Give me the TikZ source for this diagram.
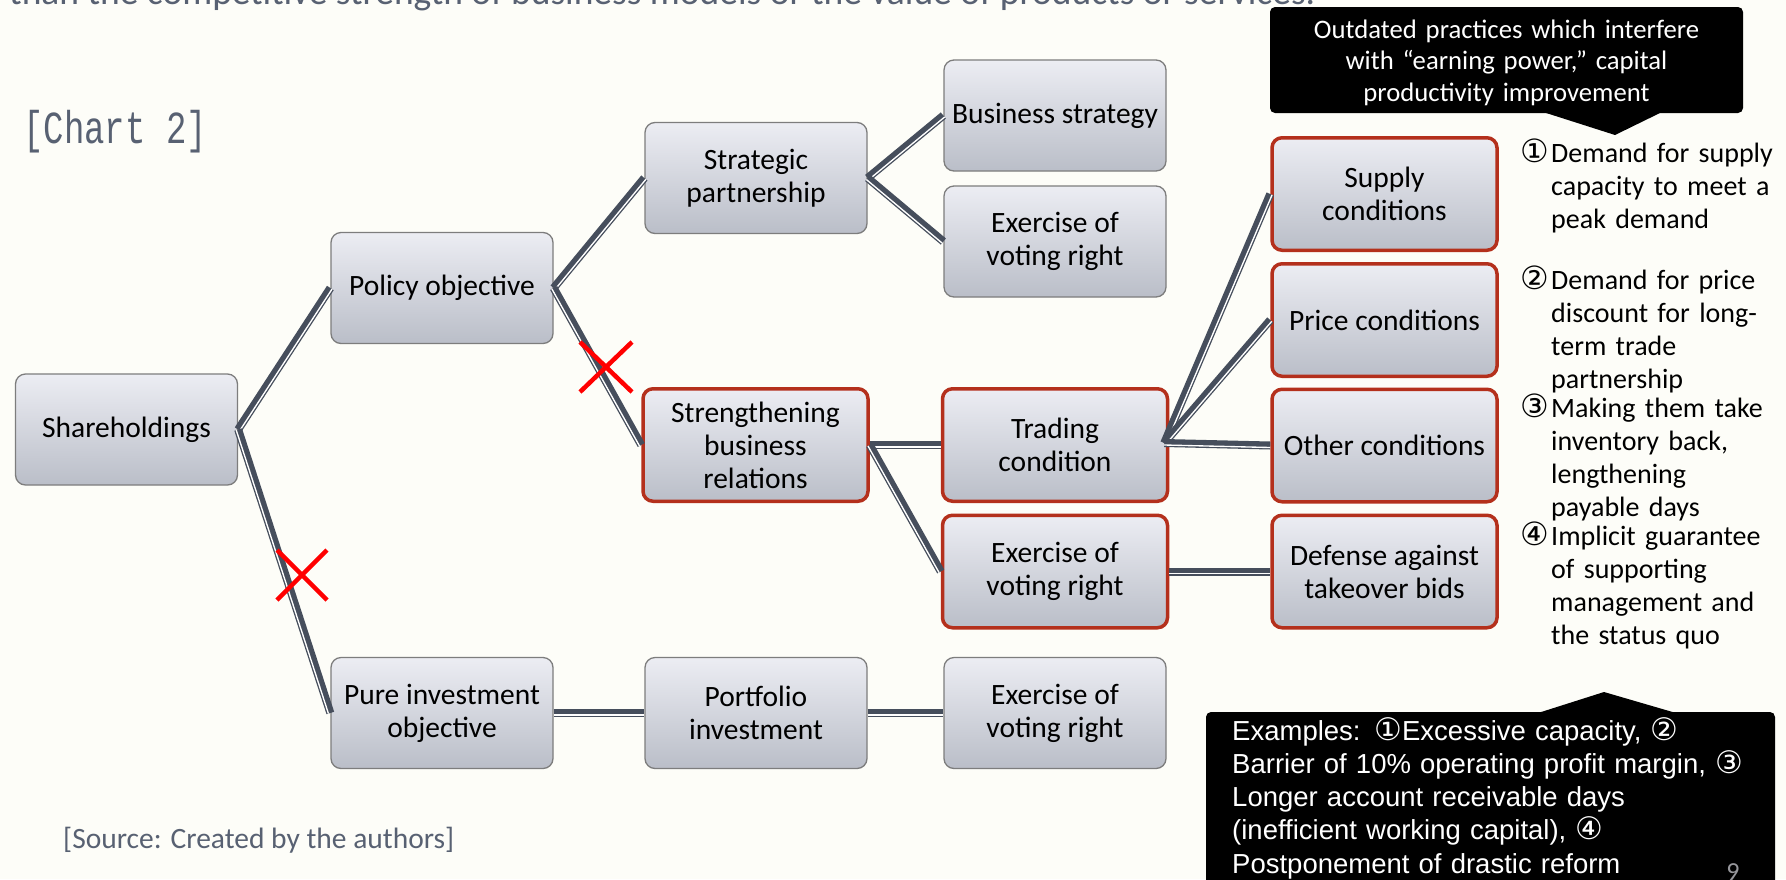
\documentclass[tikz,border=0pt]{standalone}
\usepackage{fontspec}
\usepackage{graphicx}
\setmainfont{Carlito}
\newfontfamily\calnarrow{Carlito}[WordSpace=0.7]
\newfontfamily\arialf{Liberation Sans}
\newfontfamily\monof{Liberation Mono}
\newfontfamily\djv{DejaVu Sans}
\usetikzlibrary{calc}
\definecolor{bg}{RGB}{253,253,248}
\definecolor{cdark}{RGB}{70,78,92}
\definecolor{boxtop}{RGB}{236,237,243}
\definecolor{boxbot}{RGB}{186,190,200}
\definecolor{boxline}{RGB}{125,125,125}
\definecolor{hiline}{RGB}{180,48,28}
\definecolor{greytext}{RGB}{88,97,114}
\definecolor{xred}{RGB}{255,0,0}
\definecolor{pnum}{RGB}{150,150,155}
\newcommand{\cn}[1]{{\djv\fontsize{31}{31}\selectfont #1}}
\tikzset{
  box/.style={rectangle, rounded corners=10pt, top color=boxtop, bottom color=boxbot,
    draw=boxline, line width=1.3pt, minimum width=222pt, minimum height=111pt,
    inner sep=2pt, align=center, text=black, font=\fontsize{29.5}{33}\selectfont},
  hibox/.style={box, draw=hiline, line width=3.5pt, minimum width=225pt, minimum height=112.5pt},
  cline/.style={draw=cdark, line width=8pt},
  cgap/.style={draw=white, line width=1.35pt},
  redx/.style={draw=xred, line width=4.5pt},
  callbox/.style={rectangle, rounded corners=5pt, fill=black, draw=none},
  rtext/.style={anchor=base west, inner sep=0pt, text width=240pt, align=left, text=black,
    font=\calnarrow\fontsize{28}{33}\selectfont},
  rnum/.style={anchor=base east, inner sep=0pt, text=black, font=\djv\fontsize{32}{32}\selectfont},
  greylabel/.style={anchor=base west, inner sep=0pt, text=greytext}
}
\newcommand{\linkto}[2]{%
  \draw[cline] (#1) -- (#2);
  \draw[cgap] ($(#1)!2pt!-90:(#2)$) -- ($(#2)!2pt!90:(#1)$);
}
\begin{document}
\begin{tikzpicture}[x=1pt,y=-1pt]
\path[use as bounding box, fill=bg] (0,0) rectangle (1786,879);

\begin{scope}
\clip (0,0) rectangle (1786,879);
\node[greylabel, font=\fontsize{37.5}{44}\selectfont] (toptext) at (9,4)
  {than the competitive strength of business models or the value of products or services.};
% bottom callout
\node[callbox, minimum width=569pt, minimum height=183pt] (c2) at (1490.5,803.5) {};
\fill[black] (1538,713) -- (1604,692) -- (1676,713) -- cycle;
\node[anchor=base west, inner sep=0pt, text width=560pt, align=left, text=white,
  font=\arialf\fontsize{27.5}{33.3}\selectfont] (c2t) at (1232,740)
  {Examples: \cn{①}Excessive capacity, \cn{②}\\
   Barrier of 10\% operating profit margin, \cn{③}\\
   Longer account receivable days\\
   (inefficient working capital), \cn{④}\\
   Postponement of drastic reform};
\node[anchor=base, inner sep=0pt, text=pnum, font=\fontsize{26}{30}\selectfont] (pg) at (1733,880) {9};
\end{scope}

% title and source
\node[greylabel, font=\monof\fontsize{34}{40}\selectfont] (chart) at (23,143)
  {\scalebox{1}[1.35]{[Chart 2]}};
\node[greylabel, font=\fontsize{29.5}{33}\selectfont] (src) at (63,848)
  {[Source: Created by the authors]};

% top callout
\node[callbox, minimum width=473pt, minimum height=106pt] (c1) at (1506.5,60) {};
\fill[black] (1543,112) -- (1615,135) -- (1662,112) -- cycle;
\node[anchor=base, inner sep=0pt, text width=470pt, align=center, text=white,
  font=\fontsize{26.7}{31.5}\selectfont] (c1t) at (1506.5,38)
  {Outdated practices which interfere\\with “earning power,” capital\\productivity improvement};

% boxes
\node[box]   (sh)  at (126.5,429.5) {Shareholdings};
\node[box]   (po)  at (442,288)     {Policy objective};
\node[box]   (pu)  at (442,713)     {Pure investment\\objective};
\node[box]   (sp)  at (756,178)     {Strategic\\partnership};
\node[hibox] (sb)  at (755.5,445)   {Strengthening\\business\\relations};
\node[box]   (pf)  at (756,713)     {Portfolio\\investment};
\node[box]   (bs)  at (1055,115.5)  {Business strategy};
\node[box]   (ev1) at (1055,241.5)  {Exercise of\\voting right};
\node[hibox] (tc)  at (1055,445)    {Trading\\condition};
\node[hibox] (ev2) at (1055,571.5)  {Exercise of\\voting right};
\node[box]   (ev3) at (1055,713)    {Exercise of\\voting right};
\node[hibox] (su)  at (1384.5,194)  {Supply\\conditions};
\node[hibox] (pr)  at (1384.5,320)  {Price conditions};
\node[hibox] (ot)  at (1384.5,445.5){Other conditions};
\node[hibox] (de)  at (1384.5,571.5){Defense against\\takeover bids};

% connectors
\linkto{sh.east}{po.west}
\linkto{sh.east}{pu.west}
\linkto{po.east}{sp.west}
\linkto{po.east}{sb.west}
\linkto{sp.east}{bs.west}
\linkto{sp.east}{ev1.west}
\linkto{sb.east}{tc.west}
\linkto{sb.east}{ev2.west}
\coordinate (tf) at ($(tc.east)+(-5,-2)$);
\linkto{tf}{su.west}
\linkto{tf}{pr.west}
\linkto{tf}{ot.west}
\linkto{ev2.east}{de.west}
\linkto{pu.east}{pf.west}
\linkto{pf.east}{ev3.west}

% red crosses
\coordinate (xa) at (606,367);
\draw[redx] ($(xa)+(-26,-25)$) -- ($(xa)+(26,25)$);
\draw[redx] ($(xa)+(-26,25)$) -- ($(xa)+(26,-25)$);
\coordinate (xb) at (302,575);
\draw[redx] ($(xb)+(-25,-25)$) -- ($(xb)+(25,25)$);
\draw[redx] ($(xb)+(-25,25)$) -- ($(xb)+(25,-25)$);

% right-hand notes
\node[rnum]  (n1) at (1549,162) {①};
\node[rtext] (t1) at (1551,162) {Demand for supply\\capacity to meet a\\peak demand};
\node[rnum]  (n2) at (1549,289) {②};
\node[rtext] (t2) at (1551,289) {Demand for price\\discount for long-\\term trade\\partnership};
\node[rnum]  (n3) at (1549,417) {③};
\node[rtext] (t3) at (1551,417) {Making them take\\inventory back,\\lengthening\\payable days};
\node[rnum]  (n4) at (1549,545) {④};
\node[rtext] (t4) at (1551,545) {Implicit guarantee\\of supporting\\management and\\the status quo};
\end{tikzpicture}
\end{document}
